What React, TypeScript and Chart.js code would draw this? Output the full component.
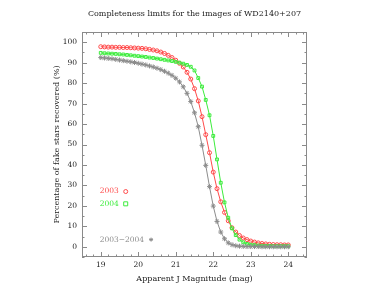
import React, { useEffect, useRef } from 'react';
import { Chart, registerables } from 'chart.js';

Chart.register(...registerables);

const magnitudes = [
  19.0, 19.1, 19.2, 19.3, 19.4, 19.5, 19.6, 19.7, 19.8, 19.9,
  20.0, 20.1, 20.2, 20.3, 20.4, 20.5, 20.6, 20.7, 20.8, 20.9,
  21.0, 21.1, 21.2, 21.3, 21.4, 21.5, 21.6, 21.7, 21.8, 21.9,
  22.0, 22.1, 22.2, 22.3, 22.4, 22.5, 22.6, 22.7, 22.8, 22.9,
  23.0, 23.1, 23.2, 23.3, 23.4, 23.5, 23.6, 23.7, 23.8, 23.9, 24.0,
];

const recovered2003 = [
  97.8, 97.7, 97.6, 97.6, 97.5, 97.5, 97.4, 97.4, 97.3, 97.2,
  97.1, 97.0, 96.8, 96.5, 96.2, 95.8, 95.2, 94.5, 93.6, 92.5,
  91.2, 89.7, 87.9, 85.3, 82.0, 77.3, 71.3, 63.6, 54.8, 46.0,
  36.5, 28.4, 22.0, 16.8, 12.7, 9.3, 7.2, 5.5, 4.3, 3.5,
  2.8, 2.3, 1.9, 1.6, 1.4, 1.2, 1.1, 1.0, 1.0, 0.9, 0.9,
];

const recovered2004 = [
  94.8, 94.6, 94.5, 94.4, 94.3, 94.1, 94.0, 93.8, 93.6, 93.4,
  93.2, 93.0, 92.8, 92.5, 92.3, 92.0, 91.7, 91.4, 91.1, 90.8,
  90.4, 90.0, 89.5, 88.9, 88.0, 86.2, 82.5, 78.3, 71.8, 64.3,
  54.2, 42.7, 31.3, 21.7, 14.2, 9.0, 5.7, 3.5, 2.2, 1.4,
  1.0, 0.8, 0.6, 0.5, 0.4, 0.4, 0.3, 0.3, 0.3, 0.3, 0.3,
];

const recoveredBoth = [
  92.5, 92.3, 92.1, 91.9, 91.6, 91.3, 91.0, 90.7, 90.4, 90.1,
  89.7, 89.3, 88.9, 88.4, 87.9, 87.3, 86.6, 85.8, 84.9, 83.8,
  82.4, 80.6, 78.2, 75.0, 71.0, 65.5, 58.7, 49.6, 39.8, 29.4,
  19.9, 12.4, 7.2, 3.9, 1.9, 1.0, 0.5, 0.3, 0.2, 0.1,
  0.1, 0.1, 0.1, 0.0, 0.0, 0.0, 0.0, 0.0, 0.0, 0.0, 0.0,
];

const xTickValues = [19, 20, 21, 22, 23, 24];
const yTickValues = [0, 10, 20, 30, 40, 50, 60, 70, 80, 90, 100];
const seriesLabels = ['2003', '2004', '2003\u22122004'];

const FONT = 'DejaVu Serif';
const RED = '#ff4a4a';
const GREEN = '#3cec3c';
const GRAY = '#8c8c8c';
const TEXT = '#222222';
const FRAME = '#8a8a8a';

const toPoints = (vals: number[]) => magnitudes.map((m, i) => ({ x: m, y: vals[i] }));

function drawMarker(ctx: CanvasRenderingContext2D, style: string, x: number, y: number, r: number, color: string) {
  ctx.save();
  ctx.strokeStyle = color;
  ctx.lineWidth = 1;
  ctx.beginPath();
  if (style === 'circle') {
    ctx.arc(x, y, r, 0, Math.PI * 2);
  } else if (style === 'rect') {
    ctx.rect(x - r, y - r, 2 * r, 2 * r);
  } else {
    for (let k = 0; k < 4; k++) {
      const a = (k * Math.PI) / 4;
      ctx.moveTo(x - Math.cos(a) * r, y - Math.sin(a) * r);
      ctx.lineTo(x + Math.cos(a) * r, y + Math.sin(a) * r);
    }
  }
  ctx.stroke();
  ctx.restore();
}

const framePlugin = {
  id: 'frameTicks',
  afterDraw(chart: any) {
    const { ctx, chartArea: a, scales } = chart;
    const xs = scales.x;
    const ys = scales.y;
    ctx.save();
    ctx.strokeStyle = FRAME;
    ctx.lineWidth = 1;
    ctx.strokeRect(a.left + 0.5, a.top + 0.5, a.right - a.left - 1, a.bottom - a.top - 1);
    ctx.beginPath();
    for (let i = 93; i <= 122; i++) {
      const v = i / 5;
      const px = Math.round(xs.getPixelForValue(v)) + 0.5;
      const len = i % 5 === 0 ? 5 : 2.5;
      ctx.moveTo(px, a.bottom);
      ctx.lineTo(px, a.bottom - len);
      ctx.moveTo(px, a.top);
      ctx.lineTo(px, a.top + len);
    }
    for (let i = -1; i <= 21; i++) {
      const v = i * 5;
      const py = Math.round(ys.getPixelForValue(v)) + 0.5;
      const len = i % 2 === 0 ? 5 : 2.5;
      ctx.moveTo(a.left, py);
      ctx.lineTo(a.left + len, py);
      ctx.moveTo(a.right, py);
      ctx.lineTo(a.right - len, py);
    }
    ctx.stroke();

    // in-plot legend
    ctx.font = `7.5px "${FONT}"`;
    ctx.textBaseline = 'middle';
    ctx.textAlign = 'left';
    const lx = xs.getPixelForValue(18.97);
    const entries = [
      { text: seriesLabels[0], color: RED, style: 'circle', y: 27 },
      { text: seriesLabels[1], color: GREEN, style: 'rect', y: 21 },
      { text: seriesLabels[2], color: GRAY, style: 'star', y: 3.5 },
    ];
    entries.forEach((e) => {
      const py = ys.getPixelForValue(e.y);
      ctx.fillStyle = e.color;
      ctx.fillText(e.text, lx, py);
      const w = ctx.measureText(e.text).width;
      drawMarker(ctx, e.style, lx + w + 7, py, 2, e.color);
    });
    ctx.restore();
  },
};

export default function App() {
  const ref = useRef<HTMLCanvasElement | null>(null);

  useEffect(() => {
    if (!ref.current) return;
    const tickFont = { family: FONT, size: 7.5 };
    const titleFont = { family: FONT, size: 8 };
    const chart = new Chart(ref.current, {
      type: 'line',
      data: {
        datasets: [
          {
            label: seriesLabels[2],
            data: toPoints(recoveredBoth),
            borderColor: GRAY,
            backgroundColor: 'transparent',
            borderWidth: 1,
            pointStyle: 'star',
            pointRadius: 2.5,
            pointBorderColor: GRAY,
            pointBorderWidth: 1,
            tension: 0,
          },
          {
            label: seriesLabels[1],
            data: toPoints(recovered2004),
            borderColor: GREEN,
            backgroundColor: 'transparent',
            borderWidth: 1,
            pointStyle: 'rect',
            pointRadius: 2,
            pointBorderColor: GREEN,
            pointBorderWidth: 1,
            tension: 0,
          },
          {
            label: seriesLabels[0],
            data: toPoints(recovered2003),
            borderColor: RED,
            backgroundColor: 'transparent',
            borderWidth: 1,
            pointStyle: 'circle',
            pointRadius: 2,
            pointBorderColor: RED,
            pointBorderWidth: 1,
            tension: 0,
          },
        ],
      },
      options: {
        animation: false,
        responsive: false,
        maintainAspectRatio: false,
        layout: { padding: 0 },
        plugins: {
          legend: { display: false },
          tooltip: { enabled: false },
          title: {
            display: true,
            text: 'Completeness limits for the images of WD2140+207',
            color: TEXT,
            font: { family: FONT, size: 8, weight: 'normal' },
            padding: { top: 9, bottom: 13.4 },
          },
        },
        scales: {
          x: {
            type: 'linear',
            min: 18.5,
            max: 24.5,
            afterBuildTicks: (s: any) => {
              s.ticks = xTickValues.map((v) => ({ value: v }));
            },
            afterFit: (s: any) => {
              s.height = 32;
            },
            grid: { display: false, drawTicks: false },
            border: { display: false },
            ticks: { font: tickFont, color: TEXT, padding: 4, maxRotation: 0, autoSkip: false },
            title: {
              display: true,
              text: 'Apparent J Magnitude (mag)',
              color: TEXT,
              font: titleFont,
              padding: { top: 0, bottom: 5.5 },
            },
          },
          y: {
            type: 'linear',
            min: -5,
            max: 105,
            afterBuildTicks: (s: any) => {
              s.ticks = yTickValues.map((v) => ({ value: v }));
            },
            afterFit: (s: any) => {
              s.width = 82;
            },
            grid: { display: false, drawTicks: false },
            border: { display: false },
            ticks: { font: tickFont, color: TEXT, padding: 5, autoSkip: false },
            title: {
              display: true,
              text: 'Percentage of fake stars recovered (%)',
              color: TEXT,
              font: titleFont,
              padding: { top: 52, bottom: 0 },
            },
          },
          yRight: {
            type: 'linear',
            position: 'right',
            min: -5,
            max: 105,
            afterFit: (s: any) => {
              s.width = 82;
            },
            grid: { display: false, drawTicks: false },
            border: { display: false },
            ticks: { display: false },
          },
        },
      },
      plugins: [framePlugin],
    } as any);
    return () => chart.destroy();
  }, []);

  return (
    <div style={{ position: 'absolute', left: 0, top: 0, width: 389, height: 289, background: '#fff' }}>
      <canvas ref={ref} width={389} height={289} style={{ display: 'block' }} />
    </div>
  );
}
